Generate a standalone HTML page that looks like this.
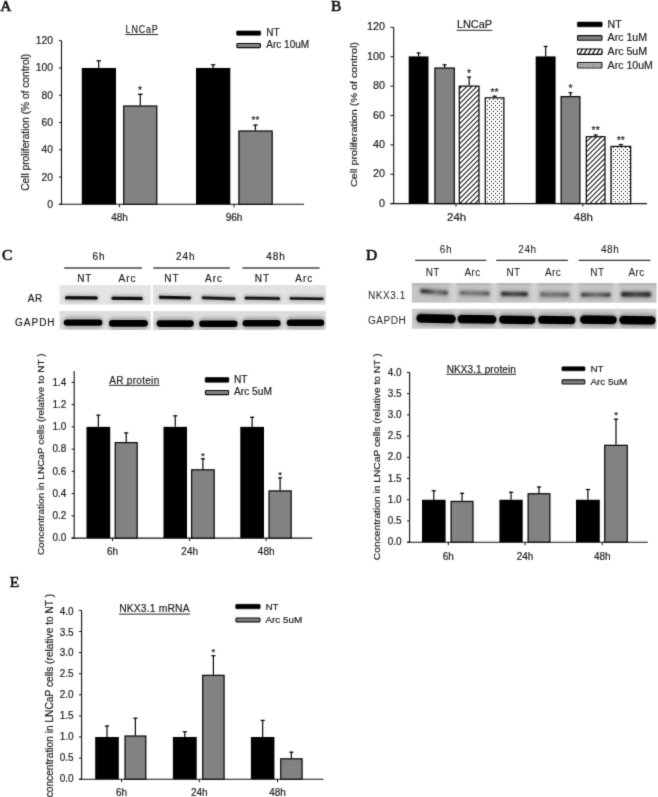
<!DOCTYPE html><html><head><meta charset="utf-8"><style>html,body{margin:0;padding:0;background:#fff;}svg{display:block;will-change:transform}</style></head><body>
<svg width="658" height="797" viewBox="0 0 658 797">
<defs>
<pattern id="hatch" patternUnits="userSpaceOnUse" width="5" height="5" x="0" y="0"><rect width="5" height="5" fill="#fff"/><rect x="0" y="2" width="1" height="1" fill="#1c1c1c"/><rect x="0" y="3" width="1" height="1" fill="#8a8a8a"/><rect x="1" y="1" width="1" height="1" fill="#1c1c1c"/><rect x="1" y="2" width="1" height="1" fill="#8a8a8a"/><rect x="2" y="0" width="1" height="1" fill="#1c1c1c"/><rect x="2" y="1" width="1" height="1" fill="#8a8a8a"/><rect x="3" y="0" width="1" height="1" fill="#8a8a8a"/><rect x="3" y="4" width="1" height="1" fill="#1c1c1c"/><rect x="4" y="3" width="1" height="1" fill="#1c1c1c"/><rect x="4" y="4" width="1" height="1" fill="#8a8a8a"/></pattern>
<pattern id="dots" patternUnits="userSpaceOnUse" width="4" height="4" x="0" y="0"><rect width="4" height="4" fill="#fff"/><rect x="1" y="3" width="1" height="1" fill="#111"/><rect x="3" y="1" width="1" height="1" fill="#111"/></pattern>
<pattern id="lhatch" patternUnits="userSpaceOnUse" width="5" height="6" x="1"><rect width="5" height="6" fill="#fff"/><path d="M0,6 L5,0" stroke="#1a1a1a" stroke-width="1.3"/></pattern>
<pattern id="ldots" patternUnits="userSpaceOnUse" width="3.6" height="6" x="0.3" y="62.2"><rect width="3.6" height="6" fill="#fff"/><circle cx="1.8" cy="3" r="1.15" fill="none" stroke="#222" stroke-width="0.75"/></pattern>
<filter id="bc" x="-10%" y="-100%" width="120%" height="300%"><feGaussianBlur stdDeviation="0.75"/></filter>
<filter id="bc2" x="-10%" y="-100%" width="120%" height="300%"><feGaussianBlur stdDeviation="1.15"/></filter>
<filter id="bh" x="-10%" y="-100%" width="120%" height="300%"><feGaussianBlur stdDeviation="1.8"/></filter>
<filter id="bs" x="-100%" y="-20%" width="300%" height="140%"><feGaussianBlur stdDeviation="1.6"/></filter>
<linearGradient id="gL" x1="0" x2="1" y1="0" y2="0"><stop offset="0" stop-color="#2a2a2a"/><stop offset="0.3" stop-color="#404040"/><stop offset="0.55" stop-color="#727272"/><stop offset="0.82" stop-color="#606060"/><stop offset="1" stop-color="#303030"/></linearGradient>
<linearGradient id="gR" x1="0" x2="1" y1="0" y2="0"><stop offset="0" stop-color="#5a5a5a"/><stop offset="0.3" stop-color="#747474"/><stop offset="0.75" stop-color="#6a6a6a"/><stop offset="1" stop-color="#404040"/></linearGradient>
<linearGradient id="gE" x1="0" x2="1" y1="0" y2="0"><stop offset="0" stop-color="#222"/><stop offset="0.2" stop-color="#4a4a4a"/><stop offset="0.5" stop-color="#6c6c6c"/><stop offset="0.8" stop-color="#4c4c4c"/><stop offset="1" stop-color="#262626"/></linearGradient>
<linearGradient id="gD" x1="0" x2="1" y1="0" y2="0"><stop offset="0" stop-color="#1a1a1a"/><stop offset="0.2" stop-color="#303030"/><stop offset="0.5" stop-color="#484848"/><stop offset="0.8" stop-color="#333"/><stop offset="1" stop-color="#1c1c1c"/></linearGradient>
<linearGradient id="nkxbg" x1="0" x2="0" y1="0" y2="1"><stop offset="0" stop-color="#b4b4b4"/><stop offset="0.2" stop-color="#c4c4c4"/><stop offset="0.6" stop-color="#c6c6c6"/><stop offset="1" stop-color="#c2c2c2"/></linearGradient>
<linearGradient id="gapbg" x1="0" x2="0" y1="0" y2="1"><stop offset="0" stop-color="#d2d2d2"/><stop offset="0.5" stop-color="#cbcbcb"/><stop offset="1" stop-color="#cdcdcd"/></linearGradient>
<filter id="blur1" x="-20%" y="-100%" width="140%" height="300%"><feGaussianBlur stdDeviation="0.9"/></filter>
<filter id="blur2" x="-20%" y="-100%" width="140%" height="300%"><feGaussianBlur stdDeviation="1.3"/></filter>
<filter id="blurbg" x="-5%" y="-5%" width="110%" height="110%"><feGaussianBlur stdDeviation="1.5"/></filter>
</defs>
<rect width="658" height="797" fill="#fff"/>
<filter id="gblur" x="0" y="0" width="658" height="797" filterUnits="userSpaceOnUse" color-interpolation-filters="sRGB"><feConvolveMatrix order="3" kernelMatrix="0.01690 0.09620 0.01690 0.09620 0.54760 0.09620 0.01690 0.09620 0.01690" divisor="1" edgeMode="duplicate" preserveAlpha="true"/></filter>
<g filter="url(#gblur)">
<rect width="658" height="797" fill="#fff"/>
<text x="0.30" y="10.90" font-size="15.5" text-anchor="start" fill="#111" stroke="#111" stroke-width="0.6" font-family='"Liberation Serif", serif' font-weight="normal" >A</text>
<line x1="61.50" y1="40.70" x2="61.50" y2="204.80" stroke="#111" stroke-width="1.1"/>
<line x1="58.90" y1="204.30" x2="304.00" y2="204.30" stroke="#111" stroke-width="1.1"/>
<line x1="58.90" y1="204.30" x2="61.50" y2="204.30" stroke="#111" stroke-width="1"/>
<text x="53.00" y="207.91" font-size="10.3" text-anchor="end" fill="#1a1a1a" stroke="#1a1a1a" stroke-width="0.18" font-family='"Liberation Sans", sans-serif' font-weight="normal" >0</text>
<line x1="58.90" y1="177.03" x2="61.50" y2="177.03" stroke="#111" stroke-width="1"/>
<text x="53.00" y="180.58" font-size="10.3" text-anchor="end" fill="#1a1a1a" stroke="#1a1a1a" stroke-width="0.18" font-family='"Liberation Sans", sans-serif' font-weight="normal" >20</text>
<line x1="58.90" y1="149.76" x2="61.50" y2="149.76" stroke="#111" stroke-width="1"/>
<text x="53.00" y="153.25" font-size="10.3" text-anchor="end" fill="#1a1a1a" stroke="#1a1a1a" stroke-width="0.18" font-family='"Liberation Sans", sans-serif' font-weight="normal" >40</text>
<line x1="58.90" y1="122.49" x2="61.50" y2="122.49" stroke="#111" stroke-width="1"/>
<text x="53.00" y="125.93" font-size="10.3" text-anchor="end" fill="#1a1a1a" stroke="#1a1a1a" stroke-width="0.18" font-family='"Liberation Sans", sans-serif' font-weight="normal" >60</text>
<line x1="58.90" y1="95.22" x2="61.50" y2="95.22" stroke="#111" stroke-width="1"/>
<text x="53.00" y="98.61" font-size="10.3" text-anchor="end" fill="#1a1a1a" stroke="#1a1a1a" stroke-width="0.18" font-family='"Liberation Sans", sans-serif' font-weight="normal" >80</text>
<line x1="58.90" y1="67.95" x2="61.50" y2="67.95" stroke="#111" stroke-width="1"/>
<text x="53.00" y="71.28" font-size="10.3" text-anchor="end" fill="#1a1a1a" stroke="#1a1a1a" stroke-width="0.18" font-family='"Liberation Sans", sans-serif' font-weight="normal" >100</text>
<line x1="58.90" y1="40.68" x2="61.50" y2="40.68" stroke="#111" stroke-width="1"/>
<text x="53.00" y="43.95" font-size="10.3" text-anchor="end" fill="#1a1a1a" stroke="#1a1a1a" stroke-width="0.18" font-family='"Liberation Sans", sans-serif' font-weight="normal" >120</text>
<line x1="119.50" y1="204.30" x2="119.50" y2="207.30" stroke="#111" stroke-width="1"/>
<text x="119.50" y="221.40" font-size="10" text-anchor="middle" fill="#1a1a1a" stroke="#1a1a1a" stroke-width="0.18" font-family='"Liberation Sans", sans-serif' font-weight="normal" >48h</text>
<line x1="234.00" y1="204.30" x2="234.00" y2="207.30" stroke="#111" stroke-width="1"/>
<text x="234.00" y="221.40" font-size="10" text-anchor="middle" fill="#1a1a1a" stroke="#1a1a1a" stroke-width="0.18" font-family='"Liberation Sans", sans-serif' font-weight="normal" >96h</text>
<rect x="81.80" y="67.95" width="34.20" height="136.35" fill="#000"/>
<line x1="98.70" y1="67.95" x2="98.70" y2="60.30" stroke="#050505" stroke-width="1.2"/>
<line x1="96.40" y1="60.80" x2="101.00" y2="60.80" stroke="#050505" stroke-width="1.2"/>
<rect x="123.72" y="106.03" width="33.05" height="98.28" fill="#828282" stroke="#0a0a0a" stroke-width="1.25"/>
<line x1="140.30" y1="105.40" x2="140.30" y2="93.80" stroke="#050505" stroke-width="1.2"/>
<line x1="138.00" y1="94.30" x2="142.60" y2="94.30" stroke="#050505" stroke-width="1.2"/>
<text x="140.00" y="93.90" font-size="10" text-anchor="middle" fill="#222" stroke="#222" stroke-width="0.18" font-family='"Liberation Sans", sans-serif' font-weight="normal" >*</text>
<rect x="196.00" y="67.95" width="34.30" height="136.35" fill="#000"/>
<line x1="213.20" y1="67.95" x2="213.20" y2="64.30" stroke="#050505" stroke-width="1.2"/>
<line x1="210.90" y1="64.80" x2="215.50" y2="64.80" stroke="#050505" stroke-width="1.2"/>
<rect x="238.93" y="131.03" width="33.25" height="73.28" fill="#828282" stroke="#0a0a0a" stroke-width="1.25"/>
<line x1="255.40" y1="130.40" x2="255.40" y2="124.60" stroke="#050505" stroke-width="1.2"/>
<line x1="253.10" y1="125.10" x2="257.70" y2="125.10" stroke="#050505" stroke-width="1.2"/>
<text x="255.40" y="124.30" font-size="10" text-anchor="middle" fill="#222" stroke="#222" stroke-width="0.18" font-family='"Liberation Sans", sans-serif' font-weight="normal" >**</text>
<text x="149.52" y="32.80" font-size="10.6" text-anchor="start" fill="#1a1a1a" stroke="#1a1a1a" stroke-width="0.18" font-family='"Liberation Sans", sans-serif' font-weight="normal" textLength="38.3" lengthAdjust="spacing" transform="scale(0.84,1)">LNCaP</text>
<line x1="125.30" y1="34.50" x2="158.10" y2="34.50" stroke="#222" stroke-width="1.0"/>
<rect x="236.60" y="31.00" width="24.10" height="4.30" rx="0.8" fill="#000" stroke="#000" stroke-width="0.6"/>
<text x="266.30" y="35.80" font-size="10" text-anchor="start" fill="#1a1a1a" stroke="#1a1a1a" stroke-width="0.18" font-family='"Liberation Sans", sans-serif' font-weight="normal" >NT</text>
<rect x="236.85" y="43.45" width="23.60" height="4.20" rx="0.8" fill="#828282" stroke="#0a0a0a" stroke-width="1.1"/>
<text x="266.30" y="48.40" font-size="10" text-anchor="start" fill="#1a1a1a" stroke="#1a1a1a" stroke-width="0.18" font-family='"Liberation Sans", sans-serif' font-weight="normal" >Arc 10uM</text>
<text x="0" y="0" font-size="10.2" text-anchor="middle" fill="#1a1a1a" stroke="#1a1a1a" stroke-width="0.18" font-family='"Liberation Sans", sans-serif' transform="translate(29.20,122.30) rotate(-90)">Cell proliferation (% of control)</text>
<text x="331.00" y="11.00" font-size="15.5" text-anchor="start" fill="#111" stroke="#111" stroke-width="0.6" font-family='"Liberation Serif", serif' font-weight="normal" >B</text>
<line x1="393.70" y1="27.40" x2="393.70" y2="204.10" stroke="#111" stroke-width="1.1"/>
<line x1="390.40" y1="203.60" x2="647.00" y2="203.60" stroke="#111" stroke-width="1.1"/>
<line x1="390.40" y1="203.60" x2="393.70" y2="203.60" stroke="#111" stroke-width="1"/>
<text x="385.00" y="206.78" font-size="10.8" text-anchor="end" fill="#1a1a1a" stroke="#1a1a1a" stroke-width="0.18" font-family='"Liberation Sans", sans-serif' font-weight="normal" >0</text>
<line x1="390.40" y1="174.23" x2="393.70" y2="174.23" stroke="#111" stroke-width="1"/>
<text x="385.00" y="177.38" font-size="10.8" text-anchor="end" fill="#1a1a1a" stroke="#1a1a1a" stroke-width="0.18" font-family='"Liberation Sans", sans-serif' font-weight="normal" >20</text>
<line x1="390.40" y1="144.86" x2="393.70" y2="144.86" stroke="#111" stroke-width="1"/>
<text x="385.00" y="147.98" font-size="10.8" text-anchor="end" fill="#1a1a1a" stroke="#1a1a1a" stroke-width="0.18" font-family='"Liberation Sans", sans-serif' font-weight="normal" >40</text>
<line x1="390.40" y1="115.49" x2="393.70" y2="115.49" stroke="#111" stroke-width="1"/>
<text x="385.00" y="118.58" font-size="10.8" text-anchor="end" fill="#1a1a1a" stroke="#1a1a1a" stroke-width="0.18" font-family='"Liberation Sans", sans-serif' font-weight="normal" >60</text>
<line x1="390.40" y1="86.12" x2="393.70" y2="86.12" stroke="#111" stroke-width="1"/>
<text x="385.00" y="89.18" font-size="10.8" text-anchor="end" fill="#1a1a1a" stroke="#1a1a1a" stroke-width="0.18" font-family='"Liberation Sans", sans-serif' font-weight="normal" >80</text>
<line x1="390.40" y1="56.75" x2="393.70" y2="56.75" stroke="#111" stroke-width="1"/>
<text x="385.00" y="59.78" font-size="10.8" text-anchor="end" fill="#1a1a1a" stroke="#1a1a1a" stroke-width="0.18" font-family='"Liberation Sans", sans-serif' font-weight="normal" >100</text>
<line x1="390.40" y1="27.38" x2="393.70" y2="27.38" stroke="#111" stroke-width="1"/>
<text x="385.00" y="30.38" font-size="10.8" text-anchor="end" fill="#1a1a1a" stroke="#1a1a1a" stroke-width="0.18" font-family='"Liberation Sans", sans-serif' font-weight="normal" >120</text>
<line x1="456.00" y1="203.60" x2="456.00" y2="206.60" stroke="#111" stroke-width="1"/>
<text x="456.60" y="221.10" font-size="11.5" text-anchor="middle" fill="#1a1a1a" stroke="#1a1a1a" stroke-width="0.18" font-family='"Liberation Sans", sans-serif' font-weight="normal" >24h</text>
<line x1="582.80" y1="203.60" x2="582.80" y2="206.60" stroke="#111" stroke-width="1"/>
<text x="583.40" y="221.10" font-size="11.5" text-anchor="middle" fill="#1a1a1a" stroke="#1a1a1a" stroke-width="0.18" font-family='"Liberation Sans", sans-serif' font-weight="normal" >48h</text>
<rect x="408.70" y="56.40" width="19.80" height="147.20" fill="#000"/>
<line x1="418.60" y1="56.40" x2="418.60" y2="52.50" stroke="#050505" stroke-width="1.2"/>
<line x1="416.60" y1="53.00" x2="420.60" y2="53.00" stroke="#050505" stroke-width="1.2"/>
<rect x="434.93" y="68.03" width="19.35" height="135.57" fill="#828282" stroke="#0a0a0a" stroke-width="1.25"/>
<line x1="444.60" y1="67.40" x2="444.60" y2="64.30" stroke="#050505" stroke-width="1.2"/>
<line x1="442.60" y1="64.80" x2="446.60" y2="64.80" stroke="#050505" stroke-width="1.2"/>
<rect x="459.32" y="86.12" width="19.65" height="117.47" fill="url(#hatch)" stroke="#0a0a0a" stroke-width="1.25"/>
<line x1="469.15" y1="85.50" x2="469.15" y2="76.60" stroke="#050505" stroke-width="1.2"/>
<line x1="467.15" y1="77.10" x2="471.15" y2="77.10" stroke="#050505" stroke-width="1.2"/>
<text x="469.15" y="76.64" font-size="10.5" text-anchor="middle" fill="#222" stroke="#222" stroke-width="0.18" font-family='"Liberation Sans", sans-serif' font-weight="normal" >*</text>
<rect x="485.32" y="97.83" width="18.55" height="105.77" fill="url(#dots)" stroke="#0a0a0a" stroke-width="1.25"/>
<line x1="494.60" y1="97.20" x2="494.60" y2="95.70" stroke="#050505" stroke-width="1.2"/>
<line x1="492.60" y1="96.20" x2="496.60" y2="96.20" stroke="#050505" stroke-width="1.2"/>
<text x="494.60" y="95.75" font-size="10.5" text-anchor="middle" fill="#222" stroke="#222" stroke-width="0.18" font-family='"Liberation Sans", sans-serif' font-weight="normal" >**</text>
<rect x="535.70" y="56.40" width="19.90" height="147.20" fill="#000"/>
<line x1="545.65" y1="56.40" x2="545.65" y2="45.90" stroke="#050505" stroke-width="1.2"/>
<line x1="543.65" y1="46.40" x2="547.65" y2="46.40" stroke="#050505" stroke-width="1.2"/>
<rect x="561.12" y="96.62" width="18.75" height="106.97" fill="#828282" stroke="#0a0a0a" stroke-width="1.25"/>
<line x1="570.50" y1="96.00" x2="570.50" y2="92.20" stroke="#050505" stroke-width="1.2"/>
<line x1="568.50" y1="92.70" x2="572.50" y2="92.70" stroke="#050505" stroke-width="1.2"/>
<text x="570.50" y="91.84" font-size="10.5" text-anchor="middle" fill="#222" stroke="#222" stroke-width="0.18" font-family='"Liberation Sans", sans-serif' font-weight="normal" >*</text>
<rect x="586.33" y="136.72" width="18.65" height="66.88" fill="url(#hatch)" stroke="#0a0a0a" stroke-width="1.25"/>
<line x1="595.65" y1="136.10" x2="595.65" y2="134.50" stroke="#050505" stroke-width="1.2"/>
<line x1="593.65" y1="135.00" x2="597.65" y2="135.00" stroke="#050505" stroke-width="1.2"/>
<text x="595.65" y="133.95" font-size="10.5" text-anchor="middle" fill="#222" stroke="#222" stroke-width="0.18" font-family='"Liberation Sans", sans-serif' font-weight="normal" >**</text>
<rect x="611.02" y="146.43" width="19.65" height="57.17" fill="url(#dots)" stroke="#0a0a0a" stroke-width="1.25"/>
<line x1="620.85" y1="145.80" x2="620.85" y2="144.00" stroke="#050505" stroke-width="1.2"/>
<line x1="618.85" y1="144.50" x2="622.85" y2="144.50" stroke="#050505" stroke-width="1.2"/>
<text x="620.85" y="143.65" font-size="10.5" text-anchor="middle" fill="#222" stroke="#222" stroke-width="0.18" font-family='"Liberation Sans", sans-serif' font-weight="normal" >**</text>
<text x="457.00" y="28.10" font-size="11" text-anchor="start" fill="#1a1a1a" stroke="#1a1a1a" stroke-width="0.18" font-family='"Liberation Sans", sans-serif' font-weight="normal" textLength="35.0" lengthAdjust="spacing">LNCaP</text>
<line x1="456.70" y1="30.30" x2="492.30" y2="30.30" stroke="#222" stroke-width="1.0"/>
<rect x="577.30" y="22.10" width="24.90" height="4.70" rx="0.8" fill="#000" stroke="#000" stroke-width="0.6"/>
<text x="607.60" y="27.80" font-size="10.6" text-anchor="start" fill="#1a1a1a" stroke="#1a1a1a" stroke-width="0.18" font-family='"Liberation Sans", sans-serif' font-weight="normal" >NT</text>
<rect x="577.55" y="35.65" width="24.40" height="4.60" rx="0.8" fill="#828282" stroke="#0a0a0a" stroke-width="1.1"/>
<text x="607.60" y="41.40" font-size="10.6" text-anchor="start" fill="#1a1a1a" stroke="#1a1a1a" stroke-width="0.18" font-family='"Liberation Sans", sans-serif' font-weight="normal" >Arc 1uM</text>
<rect x="577.55" y="49.05" width="24.40" height="5.30" fill="#fff"/>
<clipPath id="lh48"><rect x="577.00" y="48.50" width="25.50" height="6.40"/></clipPath>
<path d="M575.00,54.90 L578.40,48.50 M579.30,54.90 L582.70,48.50 M583.60,54.90 L587.00,48.50 M587.90,54.90 L591.30,48.50 M592.20,54.90 L595.60,48.50 M596.50,54.90 L599.90,48.50 M600.80,54.90 L604.20,48.50 M605.10,54.90 L608.50,48.50 " stroke="#111" stroke-width="1.25" clip-path="url(#lh48)"/>
<rect x="577.55" y="49.05" width="24.40" height="5.30" rx="0.8" fill="none" stroke="#0a0a0a" stroke-width="1.1"/>
<text x="607.60" y="54.80" font-size="10.6" text-anchor="start" fill="#1a1a1a" stroke="#1a1a1a" stroke-width="0.18" font-family='"Liberation Sans", sans-serif' font-weight="normal" >Arc 5uM</text>
<rect x="577.55" y="62.65" width="24.40" height="5.40" rx="0.8" fill="#fff" stroke="#0a0a0a" stroke-width="1.1"/>
<circle cx="579.90" cy="65.50" r="1.25" fill="#fff" stroke="#2a2a2a" stroke-width="0.75"/>
<circle cx="583.20" cy="65.50" r="1.25" fill="#fff" stroke="#2a2a2a" stroke-width="0.75"/>
<circle cx="586.50" cy="65.50" r="1.25" fill="#fff" stroke="#2a2a2a" stroke-width="0.75"/>
<circle cx="589.80" cy="65.50" r="1.25" fill="#fff" stroke="#2a2a2a" stroke-width="0.75"/>
<circle cx="593.10" cy="65.50" r="1.25" fill="#fff" stroke="#2a2a2a" stroke-width="0.75"/>
<circle cx="596.40" cy="65.50" r="1.25" fill="#fff" stroke="#2a2a2a" stroke-width="0.75"/>
<circle cx="599.70" cy="65.50" r="1.25" fill="#fff" stroke="#2a2a2a" stroke-width="0.75"/>
<text x="607.60" y="68.60" font-size="10.6" text-anchor="start" fill="#1a1a1a" stroke="#1a1a1a" stroke-width="0.18" font-family='"Liberation Sans", sans-serif' font-weight="normal" >Arc 10uM</text>
<text x="0" y="0" font-size="10.8" text-anchor="middle" fill="#1a1a1a" stroke="#1a1a1a" stroke-width="0.18" font-family='"Liberation Sans", sans-serif' transform="translate(357.43,114.60) rotate(-90) scale(1,0.92)">Cell proliferation (% of control)</text>
<text x="2.00" y="259.80" font-size="15.5" text-anchor="start" fill="#111" stroke="#111" stroke-width="0.6" font-family='"Liberation Serif", serif' font-weight="normal" >C</text>
<text x="99.00" y="259.60" font-size="10" text-anchor="middle" fill="#1a1a1a" stroke="#1a1a1a" stroke-width="0.18" font-family='"Liberation Sans", sans-serif' font-weight="normal" letter-spacing="1" >6h</text>
<line x1="64.10" y1="268.00" x2="142.00" y2="268.00" stroke="#444" stroke-width="1.3"/>
<text x="185.80" y="259.60" font-size="10" text-anchor="middle" fill="#1a1a1a" stroke="#1a1a1a" stroke-width="0.18" font-family='"Liberation Sans", sans-serif' font-weight="normal" letter-spacing="1" >24h</text>
<line x1="153.30" y1="268.00" x2="229.90" y2="268.00" stroke="#444" stroke-width="1.3"/>
<text x="276.10" y="259.60" font-size="10" text-anchor="middle" fill="#1a1a1a" stroke="#1a1a1a" stroke-width="0.18" font-family='"Liberation Sans", sans-serif' font-weight="normal" letter-spacing="1" >48h</text>
<line x1="242.40" y1="268.00" x2="319.60" y2="268.00" stroke="#444" stroke-width="1.3"/>
<text x="84.80" y="281.90" font-size="10" text-anchor="middle" fill="#1a1a1a" stroke="#1a1a1a" stroke-width="0.18" font-family='"Liberation Sans", sans-serif' font-weight="normal" letter-spacing="1" >NT</text>
<text x="127.50" y="281.90" font-size="10" text-anchor="middle" fill="#1a1a1a" stroke="#1a1a1a" stroke-width="0.18" font-family='"Liberation Sans", sans-serif' font-weight="normal" letter-spacing="1" >Arc</text>
<text x="172.00" y="281.90" font-size="10" text-anchor="middle" fill="#1a1a1a" stroke="#1a1a1a" stroke-width="0.18" font-family='"Liberation Sans", sans-serif' font-weight="normal" letter-spacing="1" >NT</text>
<text x="214.10" y="281.90" font-size="10" text-anchor="middle" fill="#1a1a1a" stroke="#1a1a1a" stroke-width="0.18" font-family='"Liberation Sans", sans-serif' font-weight="normal" letter-spacing="1" >Arc</text>
<text x="262.40" y="281.90" font-size="10" text-anchor="middle" fill="#1a1a1a" stroke="#1a1a1a" stroke-width="0.18" font-family='"Liberation Sans", sans-serif' font-weight="normal" letter-spacing="1" >NT</text>
<text x="304.30" y="281.90" font-size="10" text-anchor="middle" fill="#1a1a1a" stroke="#1a1a1a" stroke-width="0.18" font-family='"Liberation Sans", sans-serif' font-weight="normal" letter-spacing="1" >Arc</text>
<text x="42.80" y="301.50" font-size="10" text-anchor="end" fill="#1a1a1a" stroke="#1a1a1a" stroke-width="0.18" font-family='"Liberation Sans", sans-serif' font-weight="normal" letter-spacing="0.6" >AR</text>
<text x="55.60" y="326.30" font-size="10" text-anchor="end" fill="#1a1a1a" stroke="#1a1a1a" stroke-width="0.18" font-family='"Liberation Sans", sans-serif' font-weight="normal" letter-spacing="1.0" >GAPDH</text>
<clipPath id="clip1"><rect x="59.40" y="285.10" width="91.40" height="19.50"/></clipPath>
<rect x="59.40" y="285.10" width="91.40" height="19.50" fill="#e4e4e4"/>
<g clip-path="url(#clip1)">
<rect x="63.50" y="293.70" width="35.80" height="8.40" rx="4.20" fill="#000" opacity="0.16" filter="url(#bh)" transform="rotate(0.524 81.40 297.90)"/>
<rect x="65.00" y="296.20" width="32.80" height="3.40" rx="1.70" fill="#080808" opacity="1.0" filter="url(#bc)" transform="rotate(0.524 81.40 297.90)"/>
<rect x="109.90" y="294.30" width="34.40" height="8.20" rx="4.10" fill="#000" opacity="0.16" filter="url(#bh)" transform="rotate(0.730 127.10 298.40)"/>
<rect x="111.40" y="296.80" width="31.40" height="3.20" rx="1.60" fill="#101010" opacity="1.0" filter="url(#bc)" transform="rotate(0.730 127.10 298.40)"/>
</g>
<clipPath id="clip2"><rect x="153.00" y="285.10" width="172.80" height="19.50"/></clipPath>
<rect x="153.00" y="285.10" width="172.80" height="19.50" fill="#e2e2e2"/>
<g clip-path="url(#clip2)">
<rect x="157.30" y="293.45" width="35.40" height="8.30" rx="4.15" fill="#000" opacity="0.16" filter="url(#bh)" transform="rotate(1.414 175.00 297.60)"/>
<rect x="158.80" y="295.95" width="32.40" height="3.30" rx="1.65" fill="#0a0a0a" opacity="1.0" filter="url(#bc)" transform="rotate(1.414 175.00 297.60)"/>
<rect x="200.30" y="294.25" width="36.60" height="7.90" rx="3.95" fill="#000" opacity="0.16" filter="url(#bh)" transform="rotate(2.045 218.60 298.20)"/>
<rect x="201.80" y="296.75" width="33.60" height="2.90" rx="1.45" fill="#141414" opacity="1.0" filter="url(#bc)" transform="rotate(2.045 218.60 298.20)"/>
<rect x="243.10" y="294.20" width="38.40" height="8.00" rx="4.00" fill="#000" opacity="0.16" filter="url(#bh)" transform="rotate(0.971 262.30 298.20)"/>
<rect x="244.60" y="296.70" width="35.40" height="3.00" rx="1.50" fill="#121212" opacity="1.0" filter="url(#bc)" transform="rotate(0.971 262.30 298.20)"/>
<rect x="288.10" y="294.75" width="37.00" height="7.70" rx="3.85" fill="#000" opacity="0.16" filter="url(#bh)" transform="rotate(0.843 306.60 298.60)"/>
<rect x="289.60" y="297.25" width="34.00" height="2.70" rx="1.35" fill="#181818" opacity="1.0" filter="url(#bc)" transform="rotate(0.843 306.60 298.60)"/>
</g>
<clipPath id="clip3"><rect x="59.40" y="311.00" width="91.40" height="19.00"/></clipPath>
<rect x="59.40" y="311.00" width="91.40" height="19.00" fill="#dedede"/>
<g clip-path="url(#clip3)">
<rect x="62.30" y="316.40" width="41.60" height="12.40" rx="6.20" fill="#000" opacity="0.22" filter="url(#bh)"/>
<rect x="63.80" y="319.40" width="38.60" height="6.40" rx="3.20" fill="#000" opacity="1.0" filter="url(#bc)"/>
<rect x="107.50" y="317.10" width="41.80" height="12.60" rx="6.30" fill="#000" opacity="0.22" filter="url(#bh)"/>
<rect x="109.00" y="320.10" width="38.80" height="6.60" rx="3.30" fill="#000" opacity="1.0" filter="url(#bc)"/>
</g>
<clipPath id="clip4"><rect x="153.00" y="311.00" width="172.80" height="19.00"/></clipPath>
<rect x="153.00" y="311.00" width="172.80" height="19.00" fill="#dcdcdc"/>
<g clip-path="url(#clip4)">
<rect x="155.10" y="317.30" width="40.20" height="12.60" rx="6.30" fill="#000" opacity="0.22" filter="url(#bh)"/>
<rect x="156.60" y="320.30" width="37.20" height="6.60" rx="3.30" fill="#000" opacity="1.0" filter="url(#bc)"/>
<rect x="197.70" y="317.60" width="41.30" height="12.40" rx="6.20" fill="#000" opacity="0.22" filter="url(#bh)"/>
<rect x="199.20" y="320.60" width="38.30" height="6.40" rx="3.20" fill="#000" opacity="1.0" filter="url(#bc)"/>
<rect x="241.10" y="317.10" width="41.00" height="12.40" rx="6.20" fill="#000" opacity="0.22" filter="url(#bh)"/>
<rect x="242.60" y="320.10" width="38.00" height="6.40" rx="3.20" fill="#000" opacity="1.0" filter="url(#bc)"/>
<rect x="285.30" y="316.50" width="40.40" height="12.60" rx="6.30" fill="#000" opacity="0.22" filter="url(#bh)"/>
<rect x="286.80" y="319.50" width="37.40" height="6.60" rx="3.30" fill="#000" opacity="1.0" filter="url(#bc)"/>
</g>
<line x1="74.20" y1="371.00" x2="74.20" y2="538.60" stroke="#111" stroke-width="1.1"/>
<line x1="71.60" y1="538.10" x2="312.20" y2="538.10" stroke="#111" stroke-width="1.1"/>
<line x1="71.60" y1="538.10" x2="74.20" y2="538.10" stroke="#111" stroke-width="1"/>
<text x="66.30" y="541.10" font-size="10.0" text-anchor="end" fill="#1a1a1a" stroke="#1a1a1a" stroke-width="0.18" font-family='"Liberation Sans", sans-serif' font-weight="normal" >0.0</text>
<line x1="71.60" y1="515.85" x2="74.20" y2="515.85" stroke="#111" stroke-width="1"/>
<text x="66.30" y="518.91" font-size="10.0" text-anchor="end" fill="#1a1a1a" stroke="#1a1a1a" stroke-width="0.18" font-family='"Liberation Sans", sans-serif' font-weight="normal" >0.2</text>
<line x1="71.60" y1="493.60" x2="74.20" y2="493.60" stroke="#111" stroke-width="1"/>
<text x="66.30" y="496.73" font-size="10.0" text-anchor="end" fill="#1a1a1a" stroke="#1a1a1a" stroke-width="0.18" font-family='"Liberation Sans", sans-serif' font-weight="normal" >0.4</text>
<line x1="71.60" y1="471.35" x2="74.20" y2="471.35" stroke="#111" stroke-width="1"/>
<text x="66.30" y="474.54" font-size="10.0" text-anchor="end" fill="#1a1a1a" stroke="#1a1a1a" stroke-width="0.18" font-family='"Liberation Sans", sans-serif' font-weight="normal" >0.6</text>
<line x1="71.60" y1="449.10" x2="74.20" y2="449.10" stroke="#111" stroke-width="1"/>
<text x="66.30" y="452.36" font-size="10.0" text-anchor="end" fill="#1a1a1a" stroke="#1a1a1a" stroke-width="0.18" font-family='"Liberation Sans", sans-serif' font-weight="normal" >0.8</text>
<line x1="71.60" y1="426.85" x2="74.20" y2="426.85" stroke="#111" stroke-width="1"/>
<text x="66.30" y="430.17" font-size="10.0" text-anchor="end" fill="#1a1a1a" stroke="#1a1a1a" stroke-width="0.18" font-family='"Liberation Sans", sans-serif' font-weight="normal" >1.0</text>
<line x1="71.60" y1="404.60" x2="74.20" y2="404.60" stroke="#111" stroke-width="1"/>
<text x="66.30" y="407.99" font-size="10.0" text-anchor="end" fill="#1a1a1a" stroke="#1a1a1a" stroke-width="0.18" font-family='"Liberation Sans", sans-serif' font-weight="normal" >1.2</text>
<line x1="71.60" y1="382.35" x2="74.20" y2="382.35" stroke="#111" stroke-width="1"/>
<text x="66.30" y="385.80" font-size="10.0" text-anchor="end" fill="#1a1a1a" stroke="#1a1a1a" stroke-width="0.18" font-family='"Liberation Sans", sans-serif' font-weight="normal" >1.4</text>
<line x1="112.50" y1="538.10" x2="112.50" y2="541.10" stroke="#111" stroke-width="1"/>
<text x="112.50" y="555.20" font-size="10" text-anchor="middle" fill="#1a1a1a" stroke="#1a1a1a" stroke-width="0.18" font-family='"Liberation Sans", sans-serif' font-weight="normal" >6h</text>
<line x1="189.70" y1="538.10" x2="189.70" y2="541.10" stroke="#111" stroke-width="1"/>
<text x="189.70" y="555.20" font-size="10" text-anchor="middle" fill="#1a1a1a" stroke="#1a1a1a" stroke-width="0.18" font-family='"Liberation Sans", sans-serif' font-weight="normal" >24h</text>
<line x1="266.20" y1="538.10" x2="266.20" y2="541.10" stroke="#111" stroke-width="1"/>
<text x="266.20" y="555.20" font-size="10" text-anchor="middle" fill="#1a1a1a" stroke="#1a1a1a" stroke-width="0.18" font-family='"Liberation Sans", sans-serif' font-weight="normal" >48h</text>
<rect x="86.50" y="426.85" width="23.70" height="111.25" fill="#000"/>
<line x1="98.35" y1="426.85" x2="98.35" y2="414.70" stroke="#050505" stroke-width="1.2"/>
<line x1="96.25" y1="415.20" x2="100.45" y2="415.20" stroke="#050505" stroke-width="1.2"/>
<rect x="115.22" y="442.62" width="21.95" height="95.48" fill="#828282" stroke="#0a0a0a" stroke-width="1.25"/>
<line x1="126.20" y1="442.00" x2="126.20" y2="432.40" stroke="#050505" stroke-width="1.2"/>
<line x1="124.10" y1="432.90" x2="128.30" y2="432.90" stroke="#050505" stroke-width="1.2"/>
<rect x="163.50" y="426.85" width="23.50" height="111.25" fill="#000"/>
<line x1="175.25" y1="426.85" x2="175.25" y2="415.30" stroke="#050505" stroke-width="1.2"/>
<line x1="173.15" y1="415.80" x2="177.35" y2="415.80" stroke="#050505" stroke-width="1.2"/>
<rect x="191.62" y="469.82" width="22.55" height="68.28" fill="#828282" stroke="#0a0a0a" stroke-width="1.25"/>
<line x1="202.90" y1="469.20" x2="202.90" y2="458.30" stroke="#050505" stroke-width="1.2"/>
<line x1="200.80" y1="458.80" x2="205.00" y2="458.80" stroke="#050505" stroke-width="1.2"/>
<text x="202.90" y="458.66" font-size="9.5" text-anchor="middle" fill="#222" stroke="#222" stroke-width="0.18" font-family='"Liberation Sans", sans-serif' font-weight="normal" >*</text>
<rect x="240.30" y="426.85" width="23.70" height="111.25" fill="#000"/>
<line x1="252.15" y1="426.85" x2="252.15" y2="416.80" stroke="#050505" stroke-width="1.2"/>
<line x1="250.05" y1="417.30" x2="254.25" y2="417.30" stroke="#050505" stroke-width="1.2"/>
<rect x="269.02" y="490.93" width="22.15" height="47.18" fill="#828282" stroke="#0a0a0a" stroke-width="1.25"/>
<line x1="280.10" y1="490.30" x2="280.10" y2="477.40" stroke="#050505" stroke-width="1.2"/>
<line x1="278.00" y1="477.90" x2="282.20" y2="477.90" stroke="#050505" stroke-width="1.2"/>
<text x="280.10" y="478.36" font-size="9.5" text-anchor="middle" fill="#222" stroke="#222" stroke-width="0.18" font-family='"Liberation Sans", sans-serif' font-weight="normal" >*</text>
<text x="109.30" y="384.40" font-size="10" text-anchor="start" fill="#1a1a1a" stroke="#1a1a1a" stroke-width="0.18" font-family='"Liberation Sans", sans-serif' font-weight="normal" textLength="49.9" lengthAdjust="spacing">AR protein</text>
<line x1="109.00" y1="385.30" x2="159.50" y2="385.30" stroke="#222" stroke-width="1.0"/>
<rect x="205.20" y="377.50" width="23.70" height="4.80" rx="0.8" fill="#000" stroke="#000" stroke-width="0.6"/>
<text x="234.00" y="382.90" font-size="10.2" text-anchor="start" fill="#1a1a1a" stroke="#1a1a1a" stroke-width="0.18" font-family='"Liberation Sans", sans-serif' font-weight="normal" >NT</text>
<rect x="205.45" y="390.45" width="23.20" height="4.20" rx="0.8" fill="#828282" stroke="#0a0a0a" stroke-width="1.1"/>
<text x="234.00" y="395.20" font-size="10.2" text-anchor="start" fill="#1a1a1a" stroke="#1a1a1a" stroke-width="0.18" font-family='"Liberation Sans", sans-serif' font-weight="normal" >Arc 5uM</text>
<text x="0" y="0" font-size="10" text-anchor="middle" fill="#1a1a1a" stroke="#1a1a1a" stroke-width="0.18" font-family='"Liberation Sans", sans-serif' transform="translate(44.41,454.30) rotate(-90) scale(1,0.86)">Concentration in LNCaP cells (relative to NT )</text>
<text x="365.90" y="259.80" font-size="15.5" text-anchor="start" fill="#111" stroke="#111" stroke-width="0.6" font-family='"Liberation Serif", serif' font-weight="normal" >D</text>
<text x="446.00" y="252.70" font-size="10" text-anchor="middle" fill="#1a1a1a" stroke="#1a1a1a" stroke-width="0.05" font-family='"Liberation Sans", sans-serif' font-weight="normal" letter-spacing="0.6" >6h</text>
<line x1="415.20" y1="260.30" x2="486.30" y2="260.30" stroke="#333" stroke-width="1.3"/>
<text x="527.50" y="252.70" font-size="10" text-anchor="middle" fill="#1a1a1a" stroke="#1a1a1a" stroke-width="0.05" font-family='"Liberation Sans", sans-serif' font-weight="normal" letter-spacing="0.6" >24h</text>
<line x1="496.20" y1="260.30" x2="567.90" y2="260.30" stroke="#333" stroke-width="1.3"/>
<text x="610.20" y="252.70" font-size="10" text-anchor="middle" fill="#1a1a1a" stroke="#1a1a1a" stroke-width="0.05" font-family='"Liberation Sans", sans-serif' font-weight="normal" letter-spacing="0.6" >48h</text>
<line x1="578.70" y1="260.30" x2="650.40" y2="260.30" stroke="#333" stroke-width="1.3"/>
<text x="432.80" y="275.60" font-size="10" text-anchor="middle" fill="#1a1a1a" stroke="#1a1a1a" stroke-width="0.05" font-family='"Liberation Sans", sans-serif' font-weight="normal" letter-spacing="0.4" >NT</text>
<text x="472.50" y="275.60" font-size="10" text-anchor="middle" fill="#1a1a1a" stroke="#1a1a1a" stroke-width="0.05" font-family='"Liberation Sans", sans-serif' font-weight="normal" letter-spacing="0.4" >Arc</text>
<text x="513.50" y="275.60" font-size="10" text-anchor="middle" fill="#1a1a1a" stroke="#1a1a1a" stroke-width="0.05" font-family='"Liberation Sans", sans-serif' font-weight="normal" letter-spacing="0.4" >NT</text>
<text x="553.00" y="275.60" font-size="10" text-anchor="middle" fill="#1a1a1a" stroke="#1a1a1a" stroke-width="0.05" font-family='"Liberation Sans", sans-serif' font-weight="normal" letter-spacing="0.4" >Arc</text>
<text x="597.40" y="275.60" font-size="10" text-anchor="middle" fill="#1a1a1a" stroke="#1a1a1a" stroke-width="0.05" font-family='"Liberation Sans", sans-serif' font-weight="normal" letter-spacing="0.4" >NT</text>
<text x="636.60" y="275.60" font-size="10" text-anchor="middle" fill="#1a1a1a" stroke="#1a1a1a" stroke-width="0.05" font-family='"Liberation Sans", sans-serif' font-weight="normal" letter-spacing="0.4" >Arc</text>
<text x="368.00" y="299.00" font-size="10" text-anchor="start" fill="#222" font-family='"Liberation Sans", sans-serif' font-weight="normal" letter-spacing="0.55" >NKX3.1</text>
<text x="368.00" y="324.10" font-size="10" text-anchor="start" fill="#222" font-family='"Liberation Sans", sans-serif' font-weight="normal" letter-spacing="0.55" >GAPDH</text>
<clipPath id="clip5"><rect x="411.80" y="283.00" width="244.70" height="19.60"/></clipPath>
<rect x="411.80" y="283.00" width="244.70" height="19.60" fill="url(#nkxbg)"/>
<g clip-path="url(#clip5)">
<rect x="450.2" y="280" width="6.4" height="26" fill="#d2d2d2" filter="url(#bs)"/>
<rect x="491.0" y="280" width="6.4" height="26" fill="#d2d2d2" filter="url(#bs)"/>
<rect x="531.0" y="280" width="6.4" height="26" fill="#d2d2d2" filter="url(#bs)"/>
<rect x="572.0" y="280" width="6.4" height="26" fill="#d2d2d2" filter="url(#bs)"/>
<rect x="612.8" y="280" width="6.4" height="26" fill="#d2d2d2" filter="url(#bs)"/>
<rect x="418.80" y="287.40" width="30.30" height="9.00" rx="4.50" fill="#000" opacity="0.14" filter="url(#bh)" transform="rotate(4.190 433.95 291.90)"/>
<rect x="420.30" y="289.90" width="27.30" height="4.00" rx="2.00" fill="url(#gL)" opacity="1.0" filter="url(#bc2)" transform="rotate(4.190 433.95 291.90)"/>
<rect x="458.40" y="288.90" width="32.40" height="8.60" rx="4.30" fill="#000" opacity="0.14" filter="url(#bh)" transform="rotate(1.364 474.60 293.20)"/>
<rect x="459.90" y="291.40" width="29.40" height="3.60" rx="1.80" fill="url(#gR)" opacity="1.0" filter="url(#bc2)" transform="rotate(1.364 474.60 293.20)"/>
<rect x="499.50" y="289.40" width="29.80" height="9.20" rx="4.60" fill="#000" opacity="0.14" filter="url(#bh)" transform="rotate(0.855 514.40 294.00)"/>
<rect x="501.00" y="291.90" width="26.80" height="4.20" rx="2.10" fill="url(#gD)" opacity="1.0" filter="url(#bc2)" transform="rotate(0.855 514.40 294.00)"/>
<rect x="538.50" y="290.30" width="32.20" height="8.60" rx="4.30" fill="#000" opacity="0.14" filter="url(#bh)" transform="rotate(0.785 554.60 294.60)"/>
<rect x="540.00" y="292.80" width="29.20" height="3.60" rx="1.80" fill="url(#gR)" opacity="1.0" filter="url(#bc2)" transform="rotate(0.785 554.60 294.60)"/>
<rect x="579.50" y="290.50" width="32.50" height="8.60" rx="4.30" fill="#000" opacity="0.14" filter="url(#bh)" transform="rotate(0.388 595.75 294.80)"/>
<rect x="581.00" y="293.00" width="29.50" height="3.60" rx="1.80" fill="url(#gE)" opacity="1.0" filter="url(#bc2)" transform="rotate(0.388 595.75 294.80)"/>
<rect x="619.70" y="289.60" width="32.80" height="9.60" rx="4.80" fill="#000" opacity="0.14" filter="url(#bh)" transform="rotate(0.385 636.10 294.40)"/>
<rect x="621.20" y="292.10" width="29.80" height="4.60" rx="2.30" fill="url(#gD)" opacity="1.0" filter="url(#bc2)" transform="rotate(0.385 636.10 294.40)"/>
</g>
<clipPath id="clip6"><rect x="411.80" y="308.80" width="244.70" height="20.00"/></clipPath>
<rect x="411.80" y="308.80" width="244.70" height="20.00" fill="url(#gapbg)"/>
<g clip-path="url(#clip6)">
<rect x="454.3" y="306" width="5" height="26" fill="#d4d4d4" filter="url(#bs)"/>
<rect x="495.1" y="306" width="5" height="26" fill="#d4d4d4" filter="url(#bs)"/>
<rect x="534.3" y="306" width="5" height="26" fill="#d4d4d4" filter="url(#bs)"/>
<rect x="575.1" y="306" width="5" height="26" fill="#d4d4d4" filter="url(#bs)"/>
<rect x="615.5" y="306" width="5" height="26" fill="#d4d4d4" filter="url(#bs)"/>
<rect x="414.90" y="311.30" width="42.40" height="14.60" rx="7.30" fill="#000" opacity="0.2" filter="url(#bh)" transform="rotate(1.454 436.10 318.60)"/>
<rect x="416.40" y="314.30" width="39.40" height="8.60" rx="4.30" fill="#000" opacity="1.0" filter="url(#bc)" transform="rotate(1.454 436.10 318.60)"/>
<rect x="456.10" y="312.00" width="41.80" height="14.40" rx="7.20" fill="#000" opacity="0.2" filter="url(#bh)" transform="rotate(0.886 477.00 319.20)"/>
<rect x="457.60" y="315.00" width="38.80" height="8.40" rx="4.20" fill="#000" opacity="1.0" filter="url(#bc)" transform="rotate(0.886 477.00 319.20)"/>
<rect x="497.70" y="312.70" width="39.20" height="14.20" rx="7.10" fill="#000" opacity="0.2" filter="url(#bh)" transform="rotate(0.950 517.30 319.80)"/>
<rect x="499.20" y="315.70" width="36.20" height="8.20" rx="4.10" fill="#000" opacity="1.0" filter="url(#bc)" transform="rotate(0.950 517.30 319.80)"/>
<rect x="536.70" y="313.00" width="40.20" height="14.00" rx="7.00" fill="#000" opacity="0.2" filter="url(#bh)" transform="rotate(0.924 556.80 320.00)"/>
<rect x="538.20" y="316.00" width="37.20" height="8.00" rx="4.00" fill="#000" opacity="1.0" filter="url(#bc)" transform="rotate(0.924 556.80 320.00)"/>
<rect x="578.50" y="312.60" width="39.80" height="14.40" rx="7.20" fill="#000" opacity="0.2" filter="url(#bh)" transform="rotate(0.934 598.40 319.80)"/>
<rect x="580.00" y="315.60" width="36.80" height="8.40" rx="4.20" fill="#000" opacity="1.0" filter="url(#bc)" transform="rotate(0.934 598.40 319.80)"/>
<rect x="617.80" y="313.00" width="39.30" height="14.40" rx="7.20" fill="#000" opacity="0.2" filter="url(#bh)" transform="rotate(0.947 637.45 320.20)"/>
<rect x="619.30" y="316.00" width="36.30" height="8.40" rx="4.20" fill="#000" opacity="1.0" filter="url(#bc)" transform="rotate(0.947 637.45 320.20)"/>
</g>
<line x1="409.60" y1="372.10" x2="409.60" y2="542.70" stroke="#111" stroke-width="1.1"/>
<line x1="407.00" y1="542.20" x2="647.80" y2="542.20" stroke="#111" stroke-width="1.1"/>
<line x1="407.00" y1="542.20" x2="409.60" y2="542.20" stroke="#111" stroke-width="1"/>
<text x="401.60" y="545.10" font-size="10.0" text-anchor="end" fill="#1a1a1a" stroke="#1a1a1a" stroke-width="0.18" font-family='"Liberation Sans", sans-serif' font-weight="normal" >0.0</text>
<line x1="407.00" y1="520.98" x2="409.60" y2="520.98" stroke="#111" stroke-width="1"/>
<text x="401.60" y="523.90" font-size="10.0" text-anchor="end" fill="#1a1a1a" stroke="#1a1a1a" stroke-width="0.18" font-family='"Liberation Sans", sans-serif' font-weight="normal" >0.5</text>
<line x1="407.00" y1="499.76" x2="409.60" y2="499.76" stroke="#111" stroke-width="1"/>
<text x="401.60" y="502.70" font-size="10.0" text-anchor="end" fill="#1a1a1a" stroke="#1a1a1a" stroke-width="0.18" font-family='"Liberation Sans", sans-serif' font-weight="normal" >1.0</text>
<line x1="407.00" y1="478.54" x2="409.60" y2="478.54" stroke="#111" stroke-width="1"/>
<text x="401.60" y="481.50" font-size="10.0" text-anchor="end" fill="#1a1a1a" stroke="#1a1a1a" stroke-width="0.18" font-family='"Liberation Sans", sans-serif' font-weight="normal" >1.5</text>
<line x1="407.00" y1="457.32" x2="409.60" y2="457.32" stroke="#111" stroke-width="1"/>
<text x="401.60" y="460.30" font-size="10.0" text-anchor="end" fill="#1a1a1a" stroke="#1a1a1a" stroke-width="0.18" font-family='"Liberation Sans", sans-serif' font-weight="normal" >2.0</text>
<line x1="407.00" y1="436.10" x2="409.60" y2="436.10" stroke="#111" stroke-width="1"/>
<text x="401.60" y="439.10" font-size="10.0" text-anchor="end" fill="#1a1a1a" stroke="#1a1a1a" stroke-width="0.18" font-family='"Liberation Sans", sans-serif' font-weight="normal" >2.5</text>
<line x1="407.00" y1="414.88" x2="409.60" y2="414.88" stroke="#111" stroke-width="1"/>
<text x="401.60" y="417.90" font-size="10.0" text-anchor="end" fill="#1a1a1a" stroke="#1a1a1a" stroke-width="0.18" font-family='"Liberation Sans", sans-serif' font-weight="normal" >3.0</text>
<line x1="407.00" y1="393.66" x2="409.60" y2="393.66" stroke="#111" stroke-width="1"/>
<text x="401.60" y="396.70" font-size="10.0" text-anchor="end" fill="#1a1a1a" stroke="#1a1a1a" stroke-width="0.18" font-family='"Liberation Sans", sans-serif' font-weight="normal" >3.5</text>
<line x1="407.00" y1="372.44" x2="409.60" y2="372.44" stroke="#111" stroke-width="1"/>
<text x="401.60" y="375.50" font-size="10.0" text-anchor="end" fill="#1a1a1a" stroke="#1a1a1a" stroke-width="0.18" font-family='"Liberation Sans", sans-serif' font-weight="normal" >4.0</text>
<line x1="448.30" y1="542.20" x2="448.30" y2="545.20" stroke="#111" stroke-width="1"/>
<text x="448.30" y="560.30" font-size="10" text-anchor="middle" fill="#1a1a1a" stroke="#1a1a1a" stroke-width="0.18" font-family='"Liberation Sans", sans-serif' font-weight="normal" >6h</text>
<line x1="525.00" y1="542.20" x2="525.00" y2="545.20" stroke="#111" stroke-width="1"/>
<text x="525.00" y="560.30" font-size="10" text-anchor="middle" fill="#1a1a1a" stroke="#1a1a1a" stroke-width="0.18" font-family='"Liberation Sans", sans-serif' font-weight="normal" >24h</text>
<line x1="602.30" y1="542.20" x2="602.30" y2="545.20" stroke="#111" stroke-width="1"/>
<text x="602.30" y="560.30" font-size="10" text-anchor="middle" fill="#1a1a1a" stroke="#1a1a1a" stroke-width="0.18" font-family='"Liberation Sans", sans-serif' font-weight="normal" >48h</text>
<rect x="422.00" y="499.76" width="23.60" height="42.44" fill="#000"/>
<line x1="433.80" y1="499.76" x2="433.80" y2="490.30" stroke="#050505" stroke-width="1.2"/>
<line x1="431.70" y1="490.80" x2="435.90" y2="490.80" stroke="#050505" stroke-width="1.2"/>
<rect x="451.12" y="501.43" width="21.85" height="40.78" fill="#828282" stroke="#0a0a0a" stroke-width="1.25"/>
<line x1="462.05" y1="500.80" x2="462.05" y2="492.80" stroke="#050505" stroke-width="1.2"/>
<line x1="459.95" y1="493.30" x2="464.15" y2="493.30" stroke="#050505" stroke-width="1.2"/>
<rect x="499.40" y="499.76" width="23.30" height="42.44" fill="#000"/>
<line x1="511.05" y1="499.76" x2="511.05" y2="491.80" stroke="#050505" stroke-width="1.2"/>
<line x1="508.95" y1="492.30" x2="513.15" y2="492.30" stroke="#050505" stroke-width="1.2"/>
<rect x="528.12" y="493.73" width="21.75" height="48.48" fill="#828282" stroke="#0a0a0a" stroke-width="1.25"/>
<line x1="539.00" y1="493.10" x2="539.00" y2="486.50" stroke="#050505" stroke-width="1.2"/>
<line x1="536.90" y1="487.00" x2="541.10" y2="487.00" stroke="#050505" stroke-width="1.2"/>
<rect x="576.00" y="499.76" width="23.80" height="42.44" fill="#000"/>
<line x1="587.90" y1="499.76" x2="587.90" y2="489.00" stroke="#050505" stroke-width="1.2"/>
<line x1="585.80" y1="489.50" x2="590.00" y2="489.50" stroke="#050505" stroke-width="1.2"/>
<rect x="604.73" y="445.32" width="22.55" height="96.88" fill="#828282" stroke="#0a0a0a" stroke-width="1.25"/>
<line x1="616.00" y1="444.70" x2="616.00" y2="418.80" stroke="#050505" stroke-width="1.2"/>
<line x1="613.90" y1="419.30" x2="618.10" y2="419.30" stroke="#050505" stroke-width="1.2"/>
<text x="616.00" y="417.56" font-size="9.5" text-anchor="middle" fill="#222" stroke="#222" stroke-width="0.18" font-family='"Liberation Sans", sans-serif' font-weight="normal" >*</text>
<text x="446.70" y="372.80" font-size="10" text-anchor="start" fill="#1a1a1a" stroke="#1a1a1a" stroke-width="0.18" font-family='"Liberation Sans", sans-serif' font-weight="normal" textLength="69.1" lengthAdjust="spacing">NKX3.1 protein</text>
<line x1="446.40" y1="374.30" x2="516.10" y2="374.30" stroke="#222" stroke-width="1.0"/>
<rect x="561.90" y="366.80" width="23.10" height="4.00" rx="0.8" fill="#000" stroke="#000" stroke-width="0.6"/>
<text x="590.40" y="371.80" font-size="9.9" text-anchor="start" fill="#1a1a1a" stroke="#1a1a1a" stroke-width="0.18" font-family='"Liberation Sans", sans-serif' font-weight="normal" >NT</text>
<rect x="562.15" y="379.85" width="22.60" height="4.10" rx="0.8" fill="#828282" stroke="#0a0a0a" stroke-width="1.1"/>
<text x="590.40" y="385.40" font-size="9.9" text-anchor="start" fill="#1a1a1a" stroke="#1a1a1a" stroke-width="0.18" font-family='"Liberation Sans", sans-serif' font-weight="normal" >Arc 5uM</text>
<text x="0" y="0" font-size="10.25" text-anchor="middle" fill="#1a1a1a" stroke="#1a1a1a" stroke-width="0.18" font-family='"Liberation Sans", sans-serif' transform="translate(379.51,456.80) rotate(-90) scale(1,0.88)">Concentration in LNCaP cells (relative to NT )</text>
<text x="9.80" y="586.80" font-size="15.5" text-anchor="start" fill="#111" stroke="#111" stroke-width="0.6" font-family='"Liberation Serif", serif' font-weight="normal" >E</text>
<line x1="81.60" y1="610.50" x2="81.60" y2="779.70" stroke="#111" stroke-width="1.1"/>
<line x1="79.00" y1="779.20" x2="323.50" y2="779.20" stroke="#111" stroke-width="1.1"/>
<line x1="79.00" y1="779.20" x2="81.60" y2="779.20" stroke="#111" stroke-width="1"/>
<text x="73.70" y="781.50" font-size="10.0" text-anchor="end" fill="#1a1a1a" stroke="#1a1a1a" stroke-width="0.18" font-family='"Liberation Sans", sans-serif' font-weight="normal" >0.0</text>
<line x1="79.00" y1="758.10" x2="81.60" y2="758.10" stroke="#111" stroke-width="1"/>
<text x="73.70" y="760.64" font-size="10.0" text-anchor="end" fill="#1a1a1a" stroke="#1a1a1a" stroke-width="0.18" font-family='"Liberation Sans", sans-serif' font-weight="normal" >0.5</text>
<line x1="79.00" y1="737.00" x2="81.60" y2="737.00" stroke="#111" stroke-width="1"/>
<text x="73.70" y="739.79" font-size="10.0" text-anchor="end" fill="#1a1a1a" stroke="#1a1a1a" stroke-width="0.18" font-family='"Liberation Sans", sans-serif' font-weight="normal" >1.0</text>
<line x1="79.00" y1="715.90" x2="81.60" y2="715.90" stroke="#111" stroke-width="1"/>
<text x="73.70" y="718.93" font-size="10.0" text-anchor="end" fill="#1a1a1a" stroke="#1a1a1a" stroke-width="0.18" font-family='"Liberation Sans", sans-serif' font-weight="normal" >1.5</text>
<line x1="79.00" y1="694.80" x2="81.60" y2="694.80" stroke="#111" stroke-width="1"/>
<text x="73.70" y="698.08" font-size="10.0" text-anchor="end" fill="#1a1a1a" stroke="#1a1a1a" stroke-width="0.18" font-family='"Liberation Sans", sans-serif' font-weight="normal" >2.0</text>
<line x1="79.00" y1="673.70" x2="81.60" y2="673.70" stroke="#111" stroke-width="1"/>
<text x="73.70" y="677.22" font-size="10.0" text-anchor="end" fill="#1a1a1a" stroke="#1a1a1a" stroke-width="0.18" font-family='"Liberation Sans", sans-serif' font-weight="normal" >2.5</text>
<line x1="79.00" y1="652.60" x2="81.60" y2="652.60" stroke="#111" stroke-width="1"/>
<text x="73.70" y="656.36" font-size="10.0" text-anchor="end" fill="#1a1a1a" stroke="#1a1a1a" stroke-width="0.18" font-family='"Liberation Sans", sans-serif' font-weight="normal" >3.0</text>
<line x1="79.00" y1="631.50" x2="81.60" y2="631.50" stroke="#111" stroke-width="1"/>
<text x="73.70" y="635.51" font-size="10.0" text-anchor="end" fill="#1a1a1a" stroke="#1a1a1a" stroke-width="0.18" font-family='"Liberation Sans", sans-serif' font-weight="normal" >3.5</text>
<line x1="79.00" y1="610.40" x2="81.60" y2="610.40" stroke="#111" stroke-width="1"/>
<text x="73.70" y="614.65" font-size="10.0" text-anchor="end" fill="#1a1a1a" stroke="#1a1a1a" stroke-width="0.18" font-family='"Liberation Sans", sans-serif' font-weight="normal" >4.0</text>
<line x1="121.60" y1="779.20" x2="121.60" y2="782.20" stroke="#111" stroke-width="1"/>
<text x="121.60" y="795.80" font-size="10" text-anchor="middle" fill="#1a1a1a" stroke="#1a1a1a" stroke-width="0.18" font-family='"Liberation Sans", sans-serif' font-weight="normal" >6h</text>
<line x1="199.30" y1="779.20" x2="199.30" y2="782.20" stroke="#111" stroke-width="1"/>
<text x="199.30" y="795.80" font-size="10" text-anchor="middle" fill="#1a1a1a" stroke="#1a1a1a" stroke-width="0.18" font-family='"Liberation Sans", sans-serif' font-weight="normal" >24h</text>
<line x1="277.50" y1="779.20" x2="277.50" y2="782.20" stroke="#111" stroke-width="1"/>
<text x="277.50" y="795.80" font-size="10" text-anchor="middle" fill="#1a1a1a" stroke="#1a1a1a" stroke-width="0.18" font-family='"Liberation Sans", sans-serif' font-weight="normal" >48h</text>
<rect x="95.20" y="737.00" width="23.60" height="42.20" fill="#000"/>
<line x1="107.00" y1="737.00" x2="107.00" y2="725.50" stroke="#050505" stroke-width="1.2"/>
<line x1="104.90" y1="726.00" x2="109.10" y2="726.00" stroke="#050505" stroke-width="1.2"/>
<rect x="125.03" y="736.02" width="20.75" height="43.18" fill="#828282" stroke="#0a0a0a" stroke-width="1.25"/>
<line x1="135.40" y1="735.40" x2="135.40" y2="717.70" stroke="#050505" stroke-width="1.2"/>
<line x1="133.30" y1="718.20" x2="137.50" y2="718.20" stroke="#050505" stroke-width="1.2"/>
<rect x="172.90" y="737.00" width="23.80" height="42.20" fill="#000"/>
<line x1="184.80" y1="737.00" x2="184.80" y2="731.30" stroke="#050505" stroke-width="1.2"/>
<line x1="182.70" y1="731.80" x2="186.90" y2="731.80" stroke="#050505" stroke-width="1.2"/>
<rect x="202.72" y="675.33" width="21.35" height="103.88" fill="#828282" stroke="#0a0a0a" stroke-width="1.25"/>
<line x1="213.40" y1="674.70" x2="213.40" y2="655.20" stroke="#050505" stroke-width="1.2"/>
<line x1="211.30" y1="655.70" x2="215.50" y2="655.70" stroke="#050505" stroke-width="1.2"/>
<text x="213.40" y="654.85" font-size="9.5" text-anchor="middle" fill="#222" stroke="#222" stroke-width="0.18" font-family='"Liberation Sans", sans-serif' font-weight="normal" >*</text>
<rect x="250.90" y="737.00" width="23.50" height="42.20" fill="#000"/>
<line x1="262.65" y1="737.00" x2="262.65" y2="719.90" stroke="#050505" stroke-width="1.2"/>
<line x1="260.55" y1="720.40" x2="264.75" y2="720.40" stroke="#050505" stroke-width="1.2"/>
<rect x="280.73" y="758.83" width="21.35" height="20.38" fill="#828282" stroke="#0a0a0a" stroke-width="1.25"/>
<line x1="291.40" y1="758.20" x2="291.40" y2="751.70" stroke="#050505" stroke-width="1.2"/>
<line x1="289.30" y1="752.20" x2="293.50" y2="752.20" stroke="#050505" stroke-width="1.2"/>
<text x="119.20" y="611.70" font-size="10.3" text-anchor="start" fill="#1a1a1a" stroke="#1a1a1a" stroke-width="0.18" font-family='"Liberation Sans", sans-serif' font-weight="normal" textLength="70.3" lengthAdjust="spacing">NKX3.1 mRNA</text>
<line x1="118.90" y1="614.10" x2="189.80" y2="614.10" stroke="#222" stroke-width="1.0"/>
<rect x="235.70" y="604.30" width="24.50" height="4.50" rx="0.8" fill="#000" stroke="#000" stroke-width="0.6"/>
<text x="265.40" y="609.80" font-size="9.9" text-anchor="start" fill="#1a1a1a" stroke="#1a1a1a" stroke-width="0.18" font-family='"Liberation Sans", sans-serif' font-weight="normal" >NT</text>
<rect x="235.95" y="617.95" width="24.00" height="3.90" rx="0.8" fill="#828282" stroke="#0a0a0a" stroke-width="1.1"/>
<text x="265.40" y="622.90" font-size="9.9" text-anchor="start" fill="#1a1a1a" stroke="#1a1a1a" stroke-width="0.18" font-family='"Liberation Sans", sans-serif' font-weight="normal" >Arc 5uM</text>
<text x="0" y="0" font-size="10.2" text-anchor="middle" fill="#1a1a1a" stroke="#1a1a1a" stroke-width="0.18" font-family='"Liberation Sans", sans-serif' transform="translate(52.80,695.60) rotate(-90)">concentration in LNCaP cells (relative to NT )</text>
</g>
</svg></body></html>
